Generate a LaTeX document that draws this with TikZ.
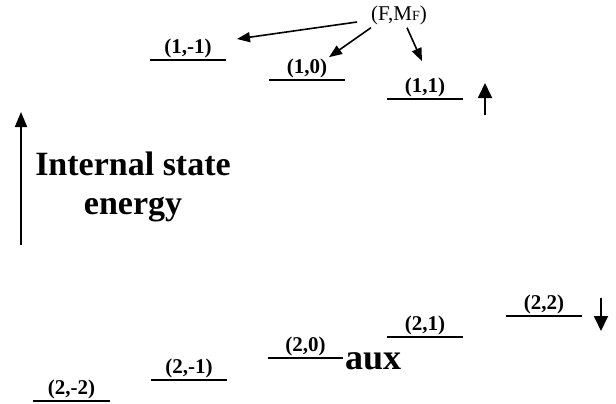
\documentclass[tikz,border=0pt]{standalone}
\usepackage{fontspec}
\setmainfont{Liberation Serif}
\usetikzlibrary{arrows.meta, calc}

\begin{document}
\begin{tikzpicture}[x=1pt, y=-1pt, >={Triangle[length=13pt,width=10pt]},
    level/.style={line width=1.8pt},
    lab/.style={font=\fontsize{21}{23}\selectfont\bfseries, inner sep=1pt, above},
    big/.style={font=\fontsize{34}{39}\selectfont\bfseries, align=center},
    tip/.style={->, line width=1.6pt},
    spin/.style={->, line width=1.8pt, >={Triangle[length=15pt,width=14pt]}}]
  \useasboundingbox (0,0) rectangle (616,404);
  % upper levels, F=1
  \draw[level] (150,60) -- node[lab] (n1m) {(1,-1)} (226,60);
  \draw[level] (269,80) -- node[lab] (n10) {(1,0)} (345,80);
  \draw[level] (387,99) -- node[lab] (n11) {(1,1)} (463,99);
  % lower levels, F=2
  \draw[level] (33,401) -- node[lab] (n2mm) {(2,-2)} (110,401);
  \draw[level] (151,380) -- node[lab] (n2m) {(2,-1)} (227,380);
  \draw[level] (268,358) -- node[lab] (n20) {(2,0)} (343,358);
  \draw[level] (387,337) -- node[lab] (n21) {(2,1)} (463,337);
  \draw[level] (506,316) -- node[lab] (n22) {(2,2)} (582,316);
  \node[font=\fontsize{36}{40}\selectfont\bfseries, anchor=base west, inner sep=0pt]
    (aux) at (345,369) {aux};
  % quantum numbers
  \node[font=\fontsize{21}{24}\selectfont, inner sep=1pt] (fmf) at (399,15)
    {(F,M{\fontsize{14}{16}\selectfont F})};
  \draw[tip] (357,22) coordinate (a1) -- (237,39) coordinate (b1);
  \draw[tip] (fmf.south west) ++(1,2) -- (n10.north east);
  \draw[tip] (fmf.south) ++(8,2) -- ($(n11.north)+(-3,-15)$);
  % energy axis
  \coordinate (eb) at (21,245);
  \coordinate (et) at (21,112);
  \draw[->, line width=1.8pt, >={Triangle[length=15pt,width=12pt]}] (eb) -- (et);
  \node[big] (energy) at (133,187) {Internal state\\energy};
  % spin arrows
  \coordinate (ub) at (485,115);
  \coordinate (ut) at (485,83);
  \draw[spin] (ub) -- (ut);
  \coordinate (dt) at (601,298);
  \coordinate (db) at (601,331);
  \draw[spin] (dt) -- (db);
\end{tikzpicture}
\end{document}
